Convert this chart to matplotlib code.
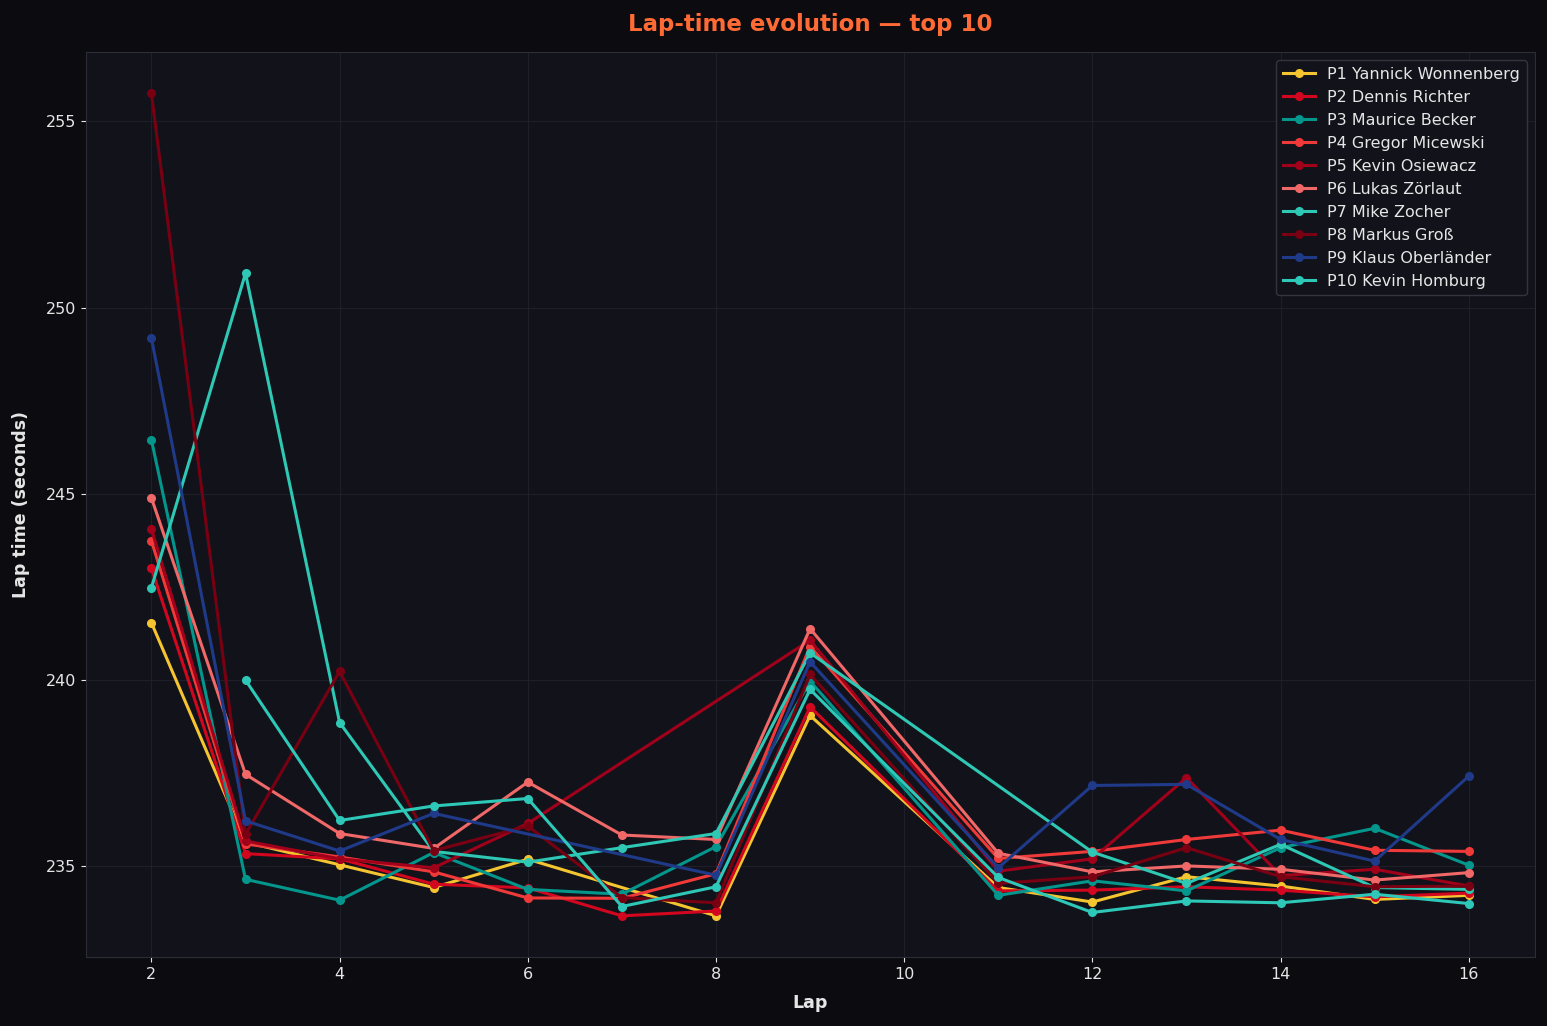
import matplotlib
matplotlib.use("Agg")
from matplotlib import pyplot as plt

laps = [2, 3, 4, 5, 6, 7, 8, 9, 11, 12, 13, 14, 15, 16]

# None = no lap time recorded for that lap
p1 = [241.54, 235.65, 235.04, 234.43, 235.19, None, 233.67, 239.05, 234.43, 234.04, 234.72, 234.47, 234.11, 234.22]
p2 = [243.00, 235.34, 235.20, 234.52, 234.42, 233.67, 233.80, 239.28, 234.34, 234.36, 234.45, 234.36, 234.18, 234.28]
p3 = [246.45, 234.65, 234.09, 235.37, 234.38, 234.25, 235.53, 239.97, 234.22, 234.61, 234.34, 235.50, 236.02, 235.03]
p4 = [243.74, 235.60, 235.25, 234.85, 234.15, 234.14, 234.80, 240.90, 235.21, 235.40, 235.72, 235.97, 235.43, 235.40]
p5 = [244.06, 235.68, 235.20, 234.96, 236.15, None, None, 241.07, 234.87, 235.20, 237.38, 234.75, 234.92, 234.47]
p6 = [244.89, 237.47, 235.88, 235.48, 237.26, 235.84, 235.72, 241.38, 235.35, 234.85, 235.01, 234.92, 234.63, 234.83]
p7 = [242.48, 250.92, 238.86, 235.40, 235.11, 235.50, 235.88, 240.73, None, 235.38, 234.54, 235.59, 234.43, 234.38]
p8 = [255.75, 235.86, 240.23, 235.42, 236.08, 234.16, 234.02, 240.15, 234.54, 234.72, 235.50, 234.72, 234.45, 234.47]
p9 = [249.18, 236.22, 235.41, 236.42, None, None, 234.76, 240.49, 234.96, 237.17, 237.20, 235.72, 235.14, 237.42]
p10 = [None, 240.00, 236.23, 236.62, 236.82, 233.92, 234.45, 239.75, 234.70, 233.76, 234.07, 234.02, 234.25, 234.00]

drivers = ["P1 Yannick Wonnenberg", "P2 Dennis Richter", "P3 Maurice Becker",
           "P4 Gregor Micewski", "P5 Kevin Osiewacz", "P6 Lukas Zörlaut",
           "P7 Mike Zocher", "P8 Markus Groß", "P9 Klaus Oberländer",
           "P10 Kevin Homburg"]
times = [p1, p2, p3, p4, p5, p6, p7, p8, p9, p10]
colors = ["#f5c431", "#d2061e", "#03968c", "#f03a3a", "#a0001a",
          "#f06868", "#2ec8b4", "#780012", "#203a8a", "#2ec8b8"]

BG = "#0b0b10"
AX_BG = "#12131a"
TXT = "#e6e6e6"

fig = plt.figure(figsize=(15.47, 10.26), dpi=100, facecolor=BG)
ax = fig.add_axes([0.0553, 0.0673, 0.9367, 0.8817])
ax.set_facecolor(AX_BG)

for name, ts, c in zip(drivers, times, colors):
    xs = [l for l, t in zip(laps, ts) if t is not None]
    ys = [t for t in ts if t is not None]
    ax.plot(xs, ys, color=c, lw=2.2, marker="o", ms=5.5, label=name)

ax.set_title("Lap-time evolution — top 10", color="#ff6a35", fontsize=16.5,
             fontweight="bold", pad=15)
ax.set_xlabel("Lap", color=TXT, fontsize=12.5, fontweight="bold", labelpad=9)
ax.set_ylabel("Lap time (seconds)", color=TXT, fontsize=12.5, fontweight="bold", labelpad=11)
ax.tick_params(colors=TXT, labelsize=11.5)
ax.set_xticks([2, 4, 6, 8, 10, 12, 14, 16])
ax.grid(True, color="#22232c", lw=0.8, alpha=0.8)
for s in ax.spines.values():
    s.set_color("#2c2d36")

leg = ax.legend(loc="upper right", fontsize=11.5, facecolor=AX_BG,
                edgecolor="#33343e", labelcolor=TXT, framealpha=1)

fig.savefig("out.png", dpi=100, facecolor=BG)
